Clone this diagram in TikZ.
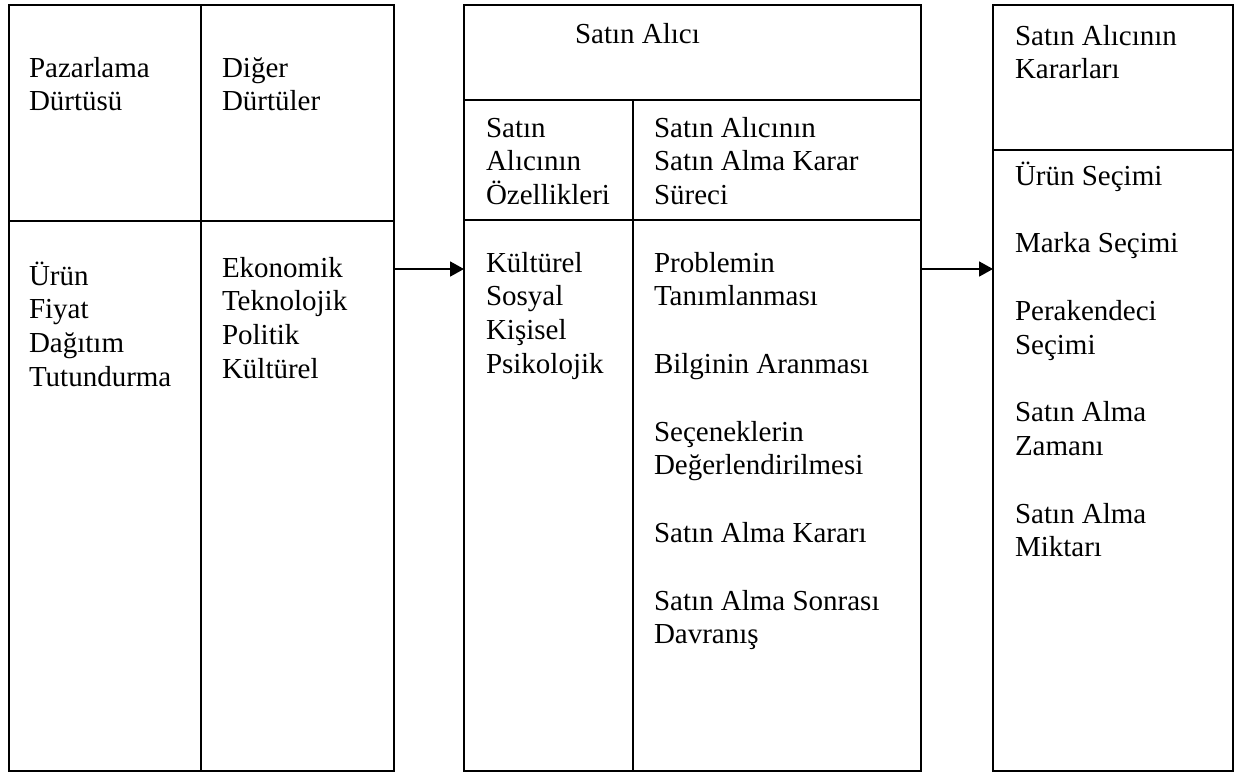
\documentclass[tikz,border=0pt]{standalone}
\usepackage{fontspec}
\setmainfont{Liberation Serif}
\usetikzlibrary{arrows.meta}

% a left-aligned block of lines whose baseline is that of its first line
\newcommand\linesblock[1]{\begin{tabular}[t]{@{}l@{}}#1\end{tabular}}

\tikzset{
  frame/.style={draw=black, line width=2pt, inner sep=0pt, outer sep=0pt, anchor=north west},
  rule/.style={line width=2pt},
  txt/.style={anchor=base west, inner sep=0pt, outer sep=0pt,
              font=\fontsize{29}{33.8}\selectfont},
  flow/.style={line width=1.8pt, -{Triangle[length=14pt,width=15pt]}}
}

\begin{document}
\begin{tikzpicture}[x=1pt,y=-1pt]
  \fill[white] (0,0) rectangle (1238,774);
  \useasboundingbox (0,0) rectangle (1238,774);

  % three tables
  \node[frame, minimum width=385pt, minimum height=766pt] (stim)  at (9,5) {};
  \node[frame, minimum width=457pt, minimum height=766pt] (buyer) at (464,5) {};
  \node[frame, minimum width=240pt, minimum height=766pt] (dec)   at (993,5) {};

  % inner rules of the stimuli table
  \draw[rule] (201,5) -- (201,771);
  \draw[rule] (9,221) -- (394,221);

  % inner rules of the buyer table
  \draw[rule] (464,100) -- (921,100);
  \draw[rule] (464,220) -- (921,220);
  \draw[rule] (633,100) -- (633,771);

  % inner rule of the decisions table
  \draw[rule] (993,150) -- (1233,150);

  % flow between tables
  \draw[flow] (stim.east |- 0,269) -- (buyer.west |- 0,269);
  \draw[flow] (buyer.east |- 0,269) -- (dec.west |- 0,269);

  % stimuli
  \node[txt] (pazh) at (29,77)  {\linesblock{Pazarlama\\Dürtüsü}};
  \node[txt] (digh) at (222,77) {\linesblock{Diğer\\Dürtüler}};
  \node[txt] (pazl) at (29,285) {\linesblock{Ürün\\Fiyat\\Dağıtım\\Tutundurma}};
  \node[txt] (digl) at (222,277) {\linesblock{Ekonomik\\Teknolojik\\Politik\\Kültürel}};

  % buyer
  \node[txt] (buyh) at (575,43) {Satın Alıcı};
  \node[txt] (chrh) at (486,137) {\linesblock{Satın\\Alıcının\\Özellikleri}};
  \node[txt] (prch) at (654,137) {\linesblock{Satın Alıcının\\Satın Alma Karar\\Süreci}};
  \node[txt] (chrl) at (486,272) {\linesblock{Kültürel\\Sosyal\\Kişisel\\Psikolojik}};
  \node[txt] (prcl) at (654,272) {\linesblock{Problemin\\Tanımlanması\\ \\Bilginin Aranması\\ \\Seçeneklerin\\Değerlendirilmesi\\ \\Satın Alma Kararı\\ \\Satın Alma Sonrası\\Davranış}};

  % decisions
  \node[txt] (dech) at (1015,45) {\linesblock{Satın Alıcının\\Kararları}};
  \node[txt] (decl) at (1015,185) {\linesblock{Ürün Seçimi\\ \\Marka Seçimi\\ \\Perakendeci\\Seçimi\\ \\Satın Alma\\Zamanı\\ \\Satın Alma\\Miktarı}};
\end{tikzpicture}
\end{document}
